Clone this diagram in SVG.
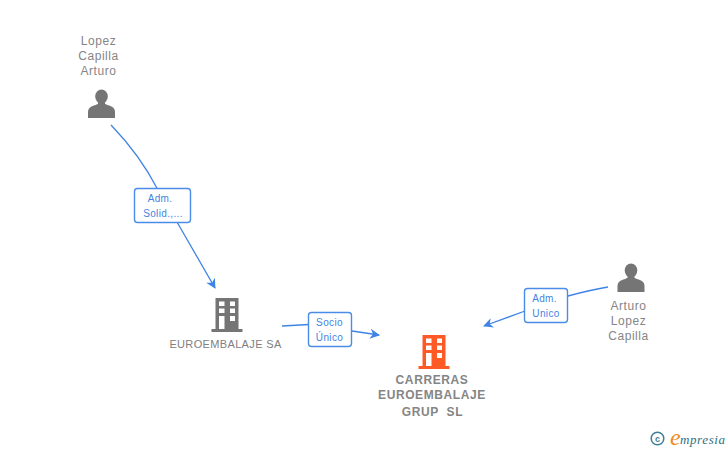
<svg xmlns="http://www.w3.org/2000/svg" width="728" height="450" viewBox="0 0 728 450">
<style>
text{font-family:"Liberation Sans",Arial,sans-serif}
.n{font-size:12px;letter-spacing:.55px;fill:#858585;text-anchor:middle}
.c{font-size:11px;letter-spacing:.35px;fill:#808080;text-anchor:middle}
.b{font-size:12px;font-weight:bold;letter-spacing:.6px;fill:#858585;text-anchor:middle}
.l{font-size:10px;letter-spacing:.35px;fill:#3f84e4;text-anchor:middle}
.e{fill:none;stroke:#3f84e4;stroke-width:1.3}
.box{fill:#fff;stroke:#4a8ce8;stroke-width:1.4}
.p{fill:#757575}
</style>
<defs>
<marker id="a" viewBox="0 0 10 10" refX="9" refY="5" markerWidth="10" markerHeight="10" markerUnits="userSpaceOnUse" orient="auto"><path d="M0 0L10 5L0 10L3 5Z" fill="#3f84e4"/></marker>
<g id="person"><ellipse cx="0" cy="-8.500" rx="6.300" ry="7"/><path d="M-3.500-4L-3.500-1Q-5-.5-10 1.500Q-13.500 3-13.500 7V13H13.500V7Q13.500 3 10 1.500Q5-.5 3.500-1V-4Z"/></g>
<g id="bld"><path fill-rule="evenodd" d="M-11.500-17H11.500V14H15.500V17H-15.500V14H-11.500ZM-8-13.500V-9H-2.500V-13.500ZM3-13.500V-9H8V-13.500ZM-8-6.500V-2H-2.500V-6.500ZM3-6.500V-2H8V-6.500ZM-8 1V14H-2.500V1ZM3 1V6H8V1Z"/></g>
</defs>
<g id="connectors">
<path class="e" d="M111 125Q140 155 158 190"/>
<path class="e" d="M177 222L215 288" marker-end="url(#a)"/>
<path class="e" d="M282 326L309 324.500"/>
<path class="e" d="M352 331L379 335" marker-end="url(#a)"/>
<path class="e" d="M608 287Q590 290 568 296"/>
<path class="e" d="M525 311L484 326" marker-end="url(#a)"/>
</g>
<g id="lopez-capilla-arturo">
<text class="n" x="98.500" y="45">Lopez</text><text class="n" x="98.500" y="60">Capilla</text><text class="n" x="98.500" y="75">Arturo</text>
<use href="#person" x="101.500" y="105" class="p"/>
</g>
<g id="label-adm-solid">
<rect class="box" x="134.500" y="188.500" width="56" height="34" rx="3"/>
<text class="l" x="160" y="202">Adm.</text><text class="l" x="163" y="217">Solid.,...</text>
</g>
<g id="euroembalaje-sa">
<use href="#bld" x="227" y="315" class="p"/>
<text class="c" x="225.500" y="348">EUROEMBALAJE SA</text>
</g>
<g id="label-socio-unico">
<rect class="box" x="308.500" y="312.500" width="43" height="34" rx="3"/>
<text class="l" x="329.500" y="326">Socio</text><text class="l" x="329.500" y="341">Único</text>
</g>
<g id="carreras-euroembalaje-grup-sl">
<use href="#bld" x="434" y="352" fill="#ff5a26"/>
<text class="b" x="432" y="384">CARRERAS</text><text class="b" x="432" y="399">EUROEMBALAJE</text><text class="b" x="432.500" y="416" xml:space="preserve">GRUP  SL</text>
</g>
<g id="label-adm-unico">
<rect class="box" x="524.500" y="288.500" width="43" height="34" rx="3"/>
<text class="l" x="544.500" y="302">Adm.</text><text class="l" x="546" y="317">Unico</text>
</g>
<g id="arturo-lopez-capilla">
<use href="#person" x="631" y="279" class="p"/>
<text class="n" x="628.500" y="310">Arturo</text><text class="n" x="628.500" y="325">Lopez</text><text class="n" x="628.500" y="340">Capilla</text>
</g>
<g id="logo">
<circle cx="657.500" cy="438.500" r="6.300" fill="none" stroke="#3d7f94" stroke-width="1.500"/>
<text x="657.500" y="441.500" font-size="9" font-weight="bold" fill="#3d7f94" text-anchor="middle">c</text>
<text x="670" y="445" font-size="24" font-style="italic" fill="#f08a1d" style="font-family:'Liberation Serif',serif">e</text>
<text x="680" y="444" font-size="13" font-style="italic" fill="#2f6f80" style="font-family:'Liberation Serif',serif" textLength="45">mpresia</text>
</g>
</svg>
